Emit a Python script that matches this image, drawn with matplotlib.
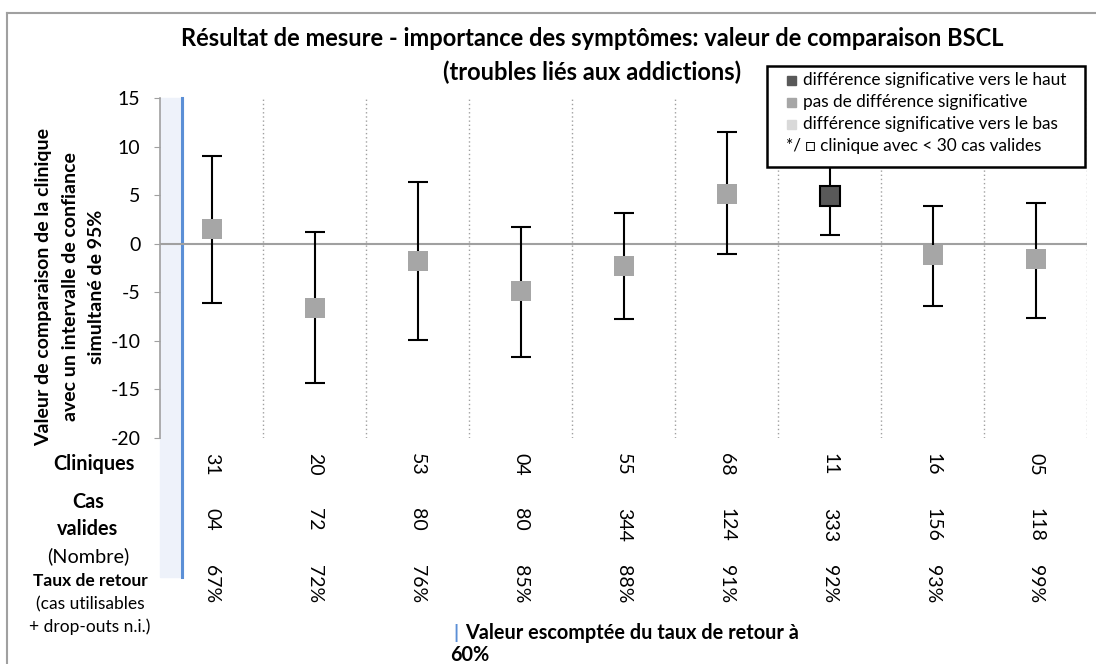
import numpy as np
import matplotlib.pyplot as plt
from matplotlib.patches import Rectangle
from matplotlib.lines import Line2D
import matplotlib.transforms as mtransforms

plt.rcParams['font.family'] = ['Lato', 'DejaVu Sans']
plt.rcParams['axes.unicode_minus'] = False

## data
cliniques = ["31", "20", "53", "04", "55", "68", "11", "16", "05"]
cas_valides = ["04", "72", "80", "80", "344", "124", "333", "156", "118"]
taux_retour = ["67%", "72%", "76%", "85%", "88%", "91%", "92%", "93%", "99%"]
valeur = [1.5, -6.6, -1.8, -4.9, -2.3, 5.1, 4.9, -1.2, -1.6]
ic_haut = [9.0, 1.2, 6.4, 1.7, 3.2, 11.5, 8.9, 3.9, 4.2]
ic_bas = [-6.1, -14.3, -9.9, -11.7, -7.8, -1.1, 0.9, -6.4, -7.6]
## 0 = pas de difference, 1 = vers le haut, -1 = vers le bas
signif = [0, 0, 0, 0, 0, 0, 1, 0, 0]

col_haut = "#595959"
col_pas = "#a6a6a6"
col_bas = "#d9d9d9"

W, H = 1096, 664
fig = plt.figure(figsize=(W / 100, H / 100), dpi=100)

def fx(x):
    return x / W

def fy(y):
    return 1 - y / H

ax = fig.add_axes([fx(160), fy(438), fx(1087) - fx(160), fy(98) - fy(438)])

x = np.arange(len(cliniques))
for i in x:
    c = {1: col_haut, 0: col_pas, -1: col_bas}[signif[i]]
    ax.errorbar(i, valeur[i],
                yerr=[[valeur[i] - ic_bas[i]], [ic_haut[i] - valeur[i]]],
                fmt="none", ecolor="black", elinewidth=1.5, capsize=7,
                capthick=1.5, zorder=3)
    ax.plot(i, valeur[i], marker="s", markersize=14.5, color=c,
            markeredgecolor="black" if signif[i] == 1 else c,
            markeredgewidth=1.5 if signif[i] == 1 else 0, zorder=4)

ax.set_xlim(-0.5, len(cliniques) - 0.5)
ax.set_ylim(-20, 15)
ax.set_yticks(np.arange(-20, 16, 5))
ax.tick_params(axis="y", labelsize=14, length=4, color="#a0a0a0", pad=10)
ax.set_xticks([])
ax.axhline(0, color="#a0a0a0", lw=1.5, zorder=2)
for b in np.arange(0.5, len(cliniques), 1):
    ax.axvline(b, color="#a0a0a0", lw=1, ls=(0, (1, 2)), zorder=1)
for s in ["top", "right", "bottom"]:
    ax.spines[s].set_visible(False)
ax.spines["left"].set_color("#a0a0a0")
ax.spines["left"].set_linewidth(1.2)

## band for the 60% expected return rate, runs down into the table
trans = mtransforms.blended_transform_factory(ax.transData, ax.transAxes)
ax.add_patch(Rectangle((-0.5, -0.41), 0.22, 1.41, transform=trans,
                       color="#eef2fa", clip_on=False, zorder=0))
ax.add_line(Line2D([-0.29, -0.29], [-0.41, 1.0], transform=trans,
                   color="#5b8fd6", lw=2.2, clip_on=False, zorder=1))

## y label, three centred lines
fig.text(fx(70), fy(287), "Valeur de comparaison de la clinique\navec un intervalle de confiance\nsimultané de 95%",
         rotation=90, ha="center", va="center", fontsize=14, fontweight="bold",
         linespacing=1.7, multialignment="center")

## table rows under the chart
for i in x:
    ax.text(i, -0.043, cliniques[i], transform=trans, rotation=-90,
            ha="center", va="top", fontsize=14)
    ax.text(i, -0.205, cas_valides[i], transform=trans, rotation=-90,
            ha="center", va="top", fontsize=14)
    ax.text(i, -0.373, taux_retour[i], transform=trans, rotation=-90,
            ha="center", va="top", fontsize=14)

fig.text(fx(94), fy(464), "Cliniques", ha="center", va="center",
         fontsize=14.3, fontweight="bold")
fig.text(fx(88), fy(502), "Cas", ha="center", va="center",
         fontsize=14.3, fontweight="bold")
fig.text(fx(88), fy(529), "valides", ha="center", va="center",
         fontsize=14.3, fontweight="bold")
fig.text(fx(88), fy(556), "(Nombre)", ha="center", va="center", fontsize=14.3)
fig.text(fx(90), fy(581), "Taux de retour", ha="center", va="center",
         fontsize=12.5, fontweight="bold")
fig.text(fx(90), fy(604), "(cas utilisables", ha="center", va="center", fontsize=12.5)
fig.text(fx(90), fy(627), "+ drop-outs n.i.)", ha="center", va="center", fontsize=12.5)

## bottom note
fig.text(fx(453), fy(633), "|", ha="left", va="center", fontsize=14,
         fontweight="bold", color="#5b8fd6")
fig.text(fx(465), fy(633), "Valeur escomptée du taux de retour à",
         ha="left", va="center", fontsize=14.3, fontweight="bold")
fig.text(fx(450), fy(655), "60%", ha="left", va="center",
         fontsize=14.3, fontweight="bold")

## title
fig.text(fx(592), fy(38), "Résultat de mesure - importance des symptômes: valeur de comparaison BSCL",
         ha="center", va="center", fontsize=17, fontweight="bold")
fig.text(fx(592), fy(72), "(troubles liés aux addictions)",
         ha="center", va="center", fontsize=17, fontweight="bold")

## legend box drawn by hand
fig.patches.append(Rectangle((fx(767), fy(167)), fx(1085) - fx(767), fy(66) - fy(167),
                             transform=fig.transFigure, facecolor="white",
                             edgecolor="black", lw=1.8, zorder=5))
leg_items = [(col_haut, "différence significative vers le haut"),
             (col_pas, "pas de différence significative"),
             (col_bas, "différence significative vers le bas")]
for k, (c, lab) in enumerate(leg_items):
    yy = 80 + 22 * k
    fig.patches.append(Rectangle((fx(787), fy(yy + 4.5)), fx(9), fx(9) * W / H,
                                 transform=fig.transFigure, color=c, zorder=6))
    fig.text(fx(803), fy(yy), lab, ha="left", va="center", fontsize=12.4, zorder=6)
fig.text(fx(786), fy(146), "*/ \u25a1 clinique avec < 30 cas valides", ha="left",
         va="center", fontsize=12.4, zorder=6, family=["Lato", "DejaVu Sans"])

## outer frame
fig.add_artist(Line2D([fx(7), fx(1096)], [fy(13), fy(13)], color="#a0a0a0", lw=1.5))
fig.add_artist(Line2D([fx(7), fx(7)], [fy(13), fy(664)], color="#a0a0a0", lw=1.5))

fig.savefig("out.png", dpi=100)
plt.close("all")
